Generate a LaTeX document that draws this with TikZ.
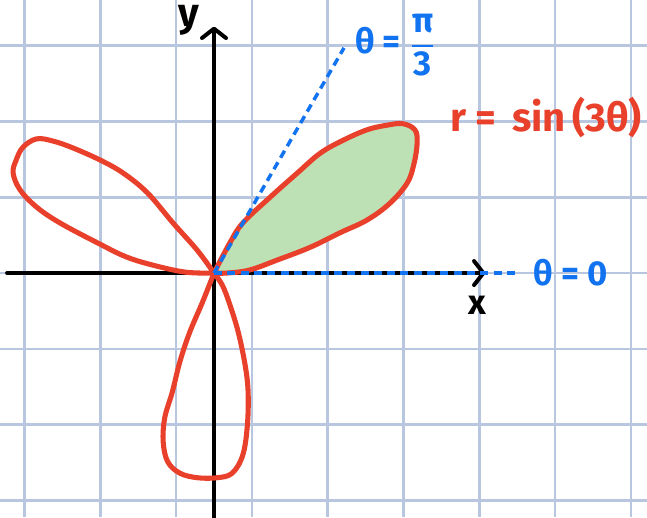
\documentclass[tikz,border=0pt]{standalone}
\usepackage{fontspec}
\setmainfont{Fira Sans}
\usepackage{amsmath}
\usetikzlibrary{arrows.meta}
\definecolor{gridblue}{HTML}{B8C7DF}
\definecolor{rosered}{HTML}{E8402B}
\definecolor{leafgreen}{HTML}{BDE1B5}
\definecolor{rayblue}{HTML}{1173F0}

\begin{document}
\begin{tikzpicture}[
  gridline/.style={gridblue, line width=1pt},
  axis/.style={black, line width=1.5pt, line cap=round,
    -{Straight Barb[length=3.5pt, width=9pt, line cap=round, line join=round]}},
  petal/.style={rosered, line width=1.9pt, line cap=round, line join=round},
  ray/.style={rayblue, line width=1.3pt, dash pattern=on 3pt off 2pt},
  handtext/.style={inner sep=1pt, font=\fontsize{13}{15}\selectfont\bfseries}
]
  \useasboundingbox (-2.823,-3.219) rectangle (5.712,3.602);
  \fill[white] (-2.823,-3.219) rectangle (5.712,3.602);

  % grid paper
  \foreach \gx in {-2.5,-1.5,...,5.5}
    \draw[gridline] (\gx,-3.219) -- (\gx,3.602);
  \foreach \gy in {-3,...,3}
    \draw[gridline] (-2.823,\gy) -- (5.712,\gy);

  % axes
  \coordinate (O) at (0,0);
  \coordinate (xstart) at (-2.73,0);
  \coordinate (xend) at (3.58,0);
  \coordinate (ystart) at (0,-3.3);
  \coordinate (yend) at (0,3.25);
  \draw[axis] (xstart) -- (xend);
  \draw[axis] (ystart) -- (yend);
  \node[handtext, font=\fontsize{15}{17}\selectfont\bfseries] (ylbl) at (-0.33,3.34) {y};
  \node[handtext] (xlbl) at (3.47,-0.42) {x};

  % shaded petal
  \draw[petal, fill=leafgreen] plot[smooth, tension=0.6] coordinates {
    (0,0) (0.21,0.40) (0.38,0.66) (0.74,1.00) (1.10,1.32) (1.40,1.58)
    (1.70,1.75) (2.02,1.89) (2.28,1.95) (2.49,1.97) (2.65,1.89) (2.68,1.72)
    (2.64,1.45) (2.55,1.19) (2.32,0.92) (2.02,0.70) (1.66,0.53) (1.27,0.34)
    (0.83,0.17) (0.47,0.04) (0.17,0) (0,0)};
  % left petal
  \draw[petal] plot[smooth, tension=0.6] coordinates {
    (0,0) (-0.22,0.30) (-0.54,0.66) (-0.88,1.06) (-1.20,1.32) (-1.50,1.49)
    (-1.86,1.65) (-2.12,1.74) (-2.34,1.77) (-2.52,1.66) (-2.61,1.49)
    (-2.65,1.32) (-2.56,1.10) (-2.34,0.87) (-2.03,0.66) (-1.54,0.40)
    (-1.15,0.21) (-0.75,0.09) (-0.36,0.01) (0,0)};
  % bottom petal
  \draw[petal] plot[smooth, tension=0.6] coordinates {
    (0,0) (-0.15,-0.38) (-0.32,-0.78) (-0.45,-1.17) (-0.55,-1.57)
    (-0.65,-1.91) (-0.67,-2.23) (-0.61,-2.49) (-0.45,-2.64) (-0.22,-2.70)
    (0.04,-2.70) (0.24,-2.64) (0.38,-2.40) (0.44,-2.01) (0.45,-1.57)
    (0.41,-1.21) (0.32,-0.78) (0.21,-0.42) (0.11,-0.16) (0,0)};
  \node[handtext, rosered, font=\fontsize{15}{17}\selectfont\bfseries] (eqn) at (4.38,2.05)
    {r =\, sin\,(3θ)};

  % rays
  \coordinate (t0end) at (4.0,0);
  \coordinate (t3end) at (60:3.43);
  \draw[ray] (O) -- (t0end);
  \draw[ray] (O) -- (t3end);
  \node[handtext, rayblue, anchor=west, xshift=5pt] (t0lbl) at (t0end) {θ = 0};
  \node[handtext, rayblue, anchor=west, xshift=3pt, yshift=1pt] (t3lbl) at (t3end)
    {θ = $\dfrac{\text{π}}{\text{3}}$};
\end{tikzpicture}
\end{document}
